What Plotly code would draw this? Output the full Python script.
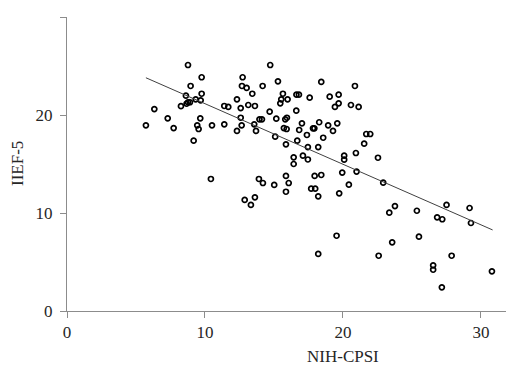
import plotly.graph_objects as go

# NIH-CPSI (x) and IIEF-5 (y) values
nih_cpsi = [8.77, 9.76, 8.96, 8.62, 9.76, 9.33, 9.69, 8.77, 8.91, 8.67,
            8.26, 6.33, 7.30, 9.66, 5.72, 7.73, 9.44, 9.54, 10.51, 9.18,
            10.43, 14.73, 12.73, 15.29, 18.43, 12.68, 13.02, 14.18, 13.43, 15.65,
            16.63, 16.81, 15.53, 15.46, 15.99, 17.59, 19.04, 19.69, 20.87, 12.32,
            19.69, 19.42, 20.58, 21.14, 11.40, 11.69, 13.14, 13.62, 12.59, 16.62,
            14.69, 13.95, 14.13, 12.59, 15.17, 15.94, 15.82, 11.40, 12.66, 13.57,
            17.03, 18.28, 18.93, 19.59, 15.72, 15.92, 16.83, 17.83, 17.93, 12.32,
            13.70, 17.39, 19.28, 15.09, 18.57, 16.69, 15.87, 17.46, 18.21, 16.43,
            17.10, 17.46, 16.43, 20.09, 20.09, 20.94, 21.69, 21.98, 21.54, 22.54,
            20.99, 19.95, 13.91, 14.20, 15.02, 15.87, 16.07, 15.87, 17.95, 18.43,
            17.70, 17.99, 18.21, 19.73, 20.43, 12.88, 13.62, 13.33, 19.54, 18.21,
            22.92, 23.77, 23.36, 25.36, 27.51, 29.18, 26.83, 27.20, 29.28, 25.51,
            23.57, 22.59, 27.88, 26.54, 26.54, 30.80, 27.17]
iief5 = [25.10, 23.85, 22.96, 21.97, 22.17, 21.60, 21.50, 21.30, 21.30, 21.15,
         20.90, 20.60, 19.66, 19.66, 18.95, 18.67, 18.95, 18.57, 18.95, 17.38,
         13.47, 25.10, 23.85, 23.44, 23.37, 22.96, 22.76, 22.96, 22.17, 22.17,
         22.07, 22.07, 21.60, 21.19, 21.60, 21.77, 21.87, 22.07, 22.96, 21.60,
         21.19, 20.82, 21.02, 20.82, 20.92, 20.82, 21.02, 20.92, 20.71, 20.44,
         20.34, 19.56, 19.56, 19.72, 19.62, 19.72, 19.56, 19.05, 18.95, 19.05,
         19.15, 19.26, 18.95, 19.15, 18.67, 18.57, 18.47, 18.64, 18.64, 18.37,
         18.37, 17.96, 18.37, 17.79, 17.68, 17.38, 17.01, 16.73, 16.73, 15.68,
         15.85, 15.46, 15.00, 15.85, 15.44, 16.12, 18.06, 18.06, 17.07, 15.64,
         14.23, 14.13, 13.47, 13.06, 12.86, 13.78, 13.06, 12.17, 13.78, 13.88,
         12.48, 12.48, 11.70, 12.01, 12.89, 11.33, 11.60, 10.82, 7.68, 5.82,
         13.09, 10.71, 10.03, 10.23, 10.82, 10.51, 9.56, 9.36, 8.98, 7.58,
         7.01, 5.64, 5.64, 4.66, 4.21, 4.05, 2.42]

# Linear trend line end points
trend_x = [5.72, 30.85]
trend_y = [23.8, 8.27]

x_ticks = [0, 10, 20, 30]
y_ticks = [0, 10, 20, 30]
x_title = "NIH-CPSI"
y_title = "IIEF-5"

FONT = "Liberation Serif"
AXIS_COLOR = "#8c8c8c"
TEXT_COLOR = "#262626"

fig = go.Figure()
fig.add_trace(go.Scatter(
    x=nih_cpsi, y=iief5, mode="markers",
    marker=dict(symbol="circle-open", size=5, color="black",
                line=dict(width=1.7, color="black")),
    showlegend=False, hoverinfo="x+y"))
fig.add_trace(go.Scatter(
    x=trend_x, y=trend_y, mode="lines",
    line=dict(color="#404040", width=1),
    showlegend=False, hoverinfo="skip"))

# The page body has an 8px default margin, so the figure is sized to fit
fig.update_layout(
    width=506, height=359,
    margin=dict(l=59, r=0, t=9, b=56),
    paper_bgcolor="white", plot_bgcolor="white",
    font=dict(family=FONT, size=16, color=TEXT_COLOR),
    xaxis=dict(range=[0, 32.4], tickvals=x_ticks, showgrid=False, zeroline=False,
               automargin=False,
               showline=True, linecolor=AXIS_COLOR, linewidth=1,
               ticks="outside", ticklen=6, tickcolor=AXIS_COLOR,
               tickfont=dict(family=FONT, size=17, color=TEXT_COLOR)),
    yaxis=dict(range=[0, 30], tickvals=y_ticks, showgrid=False, zeroline=False,
               automargin=False,
               showline=True, linecolor=AXIS_COLOR, linewidth=1,
               ticks="outside", ticklen=6, tickcolor=AXIS_COLOR,
               ticklabelstandoff=4,
               tickfont=dict(family=FONT, size=17, color=TEXT_COLOR)),
    annotations=[
        dict(text=x_title, xref="x", yref="paper", x=20, y=0,
             yshift=-45, showarrow=False, xanchor="center", yanchor="middle",
             font=dict(family=FONT, size=17, color=TEXT_COLOR)),
        dict(text=y_title, xref="paper", yref="paper", x=0, y=0.5,
             xshift=-50, showarrow=False, xanchor="center", yanchor="middle",
             textangle=-90,
             font=dict(family=FONT, size=17, color=TEXT_COLOR)),
    ],
)

fig.write_html("out.html")
